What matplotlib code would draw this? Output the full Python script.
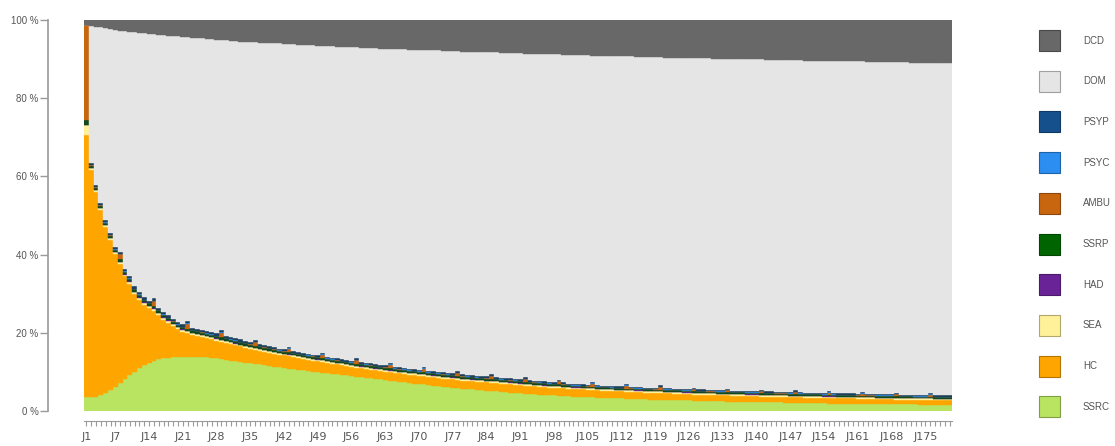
import matplotlib
matplotlib.use("Agg")
import matplotlib.pyplot as plt
import matplotlib.colors as mcolors
from matplotlib.patches import Rectangle
import numpy as np

# ---------------- data (percent of patients per day) ----------------
days = ["J%d" % i for i in range(1, 181)]
tick_days = ["J1", "J7", "J14", "J21", "J28", "J35", "J42", "J49", "J56", "J63",
             "J70", "J77", "J84", "J91", "J98", "J105", "J112", "J119", "J126",
             "J133", "J140", "J147", "J154", "J161", "J168", "J175"]
y_ticks = [0, 20, 40, 60, 80, 100]
y_labels = ["0 %", "20 %", "40 %", "60 %", "80 %", "100 %"]

ssrc = [3.6, 3.6, 3.7, 4.1, 4.7, 5.4, 6.2, 7.2, 8.2, 9.2,
        10.1, 11.0, 11.7, 12.3, 12.8, 13.2, 13.5, 13.6, 13.7, 13.8,
        13.8, 13.9, 13.9, 13.8, 13.8, 13.7, 13.6, 13.5, 13.3, 13.1,
        12.9, 12.7, 12.5, 12.4, 12.3, 12.1, 11.9, 11.7, 11.5, 11.3,
        11.2, 11.0, 10.8, 10.7, 10.5, 10.4, 10.2, 10.1, 9.9, 9.8,
        9.7, 9.5, 9.4, 9.3, 9.1, 9.0, 8.8, 8.7, 8.5, 8.4,
        8.2, 8.1, 7.9, 7.8, 7.6, 7.5, 7.3, 7.2, 7.0, 6.9,
        6.8, 6.6, 6.5, 6.4, 6.2, 6.1, 6.0, 5.9, 5.7, 5.6,
        5.5, 5.4, 5.3, 5.2, 5.1, 5.0, 4.9, 4.8, 4.7, 4.6,
        4.5, 4.4, 4.4, 4.3, 4.2, 4.1, 4.0, 4.0, 3.9, 3.8,
        3.8, 3.7, 3.6, 3.6, 3.5, 3.5, 3.4, 3.4, 3.3, 3.3,
        3.2, 3.2, 3.1, 3.1, 3.0, 3.0, 3.0, 2.9, 2.9, 2.9,
        2.8, 2.8, 2.8, 2.7, 2.7, 2.7, 2.6, 2.6, 2.6, 2.5,
        2.5, 2.5, 2.5, 2.4, 2.4, 2.4, 2.4, 2.3, 2.3, 2.3,
        2.3, 2.2, 2.2, 2.2, 2.2, 2.1, 2.1, 2.1, 2.1, 2.0,
        2.0, 2.0, 2.0, 2.0, 1.9, 1.9, 1.9, 1.9, 1.9, 1.9,
        1.8, 1.8, 1.8, 1.8, 1.8, 1.8, 1.7, 1.7, 1.7, 1.7,
        1.7, 1.7, 1.7, 1.6, 1.6, 1.6, 1.6, 1.6, 1.6, 1.6]

hc = [67.0, 58.0, 52.3, 47.3, 42.3, 38.3, 33.9, 30.4, 26.2, 23.4,
      19.9, 17.5, 15.5, 14.1, 12.9, 11.4, 9.9, 9.0, 8.0, 7.1,
      6.5, 6.0, 5.6, 5.4, 5.1, 4.9, 4.7, 4.5, 4.4, 4.3,
      4.2, 4.1, 4.0, 3.8, 3.6, 3.5, 3.5, 3.4, 3.4, 3.3,
      3.2, 3.2, 3.2, 3.1, 3.0, 2.9, 2.9, 2.8, 2.8, 2.7,
      2.6, 2.6, 2.5, 2.4, 2.4, 2.3, 2.3, 2.2, 2.3, 2.2,
      2.2, 2.1, 2.2, 2.1, 2.2, 2.1, 2.2, 2.1, 2.2, 2.1,
      2.1, 2.1, 2.1, 2.1, 2.1, 2.1, 2.1, 2.1, 2.1, 2.1,
      2.1, 2.1, 2.1, 2.1, 2.1, 2.1, 2.1, 2.1, 2.1, 2.1,
      2.1, 2.1, 2.0, 2.0, 2.0, 2.0, 2.0, 1.9, 2.0, 2.0,
      1.9, 1.9, 2.0, 1.9, 1.9, 1.9, 1.9, 1.8, 1.9, 1.8,
      1.8, 1.8, 1.8, 1.8, 1.8, 1.8, 1.7, 1.8, 1.7, 1.7,
      1.7, 1.7, 1.6, 1.7, 1.6, 1.6, 1.6, 1.6, 1.6, 1.6,
      1.6, 1.5, 1.5, 1.6, 1.5, 1.5, 1.5, 1.5, 1.5, 1.5,
      1.4, 1.5, 1.5, 1.4, 1.4, 1.5, 1.4, 1.4, 1.4, 1.4,
      1.4, 1.4, 1.4, 1.3, 1.4, 1.4, 1.3, 1.3, 1.3, 1.3,
      1.3, 1.3, 1.3, 1.3, 1.2, 1.2, 1.3, 1.3, 1.2, 1.2,
      1.2, 1.2, 1.1, 1.2, 1.2, 1.2, 1.1, 1.1, 1.1, 1.1]

sea = [2.5] + [0.5] * 29 + [0.45] * 60 + [0.4] * 90
had = [0.0] + [0.05] * 179
ssrp = [1.3] + [0.6] * 39 + [0.5] * 60 + [0.4] * 80
ambu = [24.3, 0.05, 0.05, 0.05, 0.05, 0.05, 0.05, 1.3, 0.05, 0.05,
        0.05, 0.05, 0.05, 0.05, 1.3, 0.05, 0.05, 0.05, 0.05, 0.05,
        0.05, 1.3, 0.05, 0.05, 0.05, 0.05, 0.05, 0.05, 1.2, 0.05,
        0.05, 0.05, 0.05, 0.05, 0.05, 0.9, 0.05, 0.05, 0.05, 0.05,
        0.05, 0.05, 0.9, 0.05, 0.05, 0.05, 0.05, 0.05, 0.05, 0.9,
        0.05, 0.05, 0.05, 0.05, 0.05, 0.05, 0.9, 0.05, 0.05, 0.05,
        0.05, 0.05, 0.05, 0.9, 0.05, 0.05, 0.05, 0.05, 0.05, 0.05,
        0.9, 0.05, 0.05, 0.05, 0.05, 0.05, 0.05, 0.7, 0.05, 0.05,
        0.05, 0.05, 0.05, 0.05, 0.7, 0.05, 0.05, 0.05, 0.05, 0.05,
        0.05, 0.7, 0.05, 0.05, 0.05, 0.05, 0.05, 0.05, 0.7, 0.05,
        0.05, 0.05, 0.05, 0.05, 0.05, 0.7, 0.05, 0.05, 0.05, 0.05,
        0.05, 0.05, 0.7, 0.05, 0.05, 0.05, 0.05, 0.05, 0.05, 0.7,
        0.05, 0.05, 0.05, 0.05, 0.05, 0.05, 0.5, 0.05, 0.05, 0.05,
        0.05, 0.05, 0.05, 0.5, 0.05, 0.05, 0.05, 0.05, 0.05, 0.05,
        0.5, 0.05, 0.05, 0.05, 0.05, 0.05, 0.05, 0.5, 0.05, 0.05,
        0.05, 0.05, 0.05, 0.05, 0.5, 0.05, 0.05, 0.05, 0.05, 0.05,
        0.05, 0.5, 0.05, 0.05, 0.05, 0.05, 0.05, 0.05, 0.5, 0.05,
        0.05, 0.05, 0.05, 0.05, 0.05, 0.5, 0.05, 0.05, 0.05, 0.05]
psyc = [0.0] + [0.1] * 179
psyp = [0.0] + [0.55] * 39 + [0.4] * 60 + [0.3] * 80

dcd = [1.3, 1.5, 1.7, 1.9, 2.1, 2.3, 2.5, 2.7, 2.8, 3.0,
       3.1, 3.3, 3.4, 3.5, 3.7, 3.8, 3.9, 4.0, 4.1, 4.2,
       4.3, 4.4, 4.5, 4.6, 4.7, 4.8, 4.9, 5.0, 5.1, 5.2,
       5.3, 5.4, 5.5, 5.5, 5.6, 5.7, 5.8, 5.8, 5.9, 6.0,
       6.0, 6.1, 6.2, 6.2, 6.3, 6.4, 6.4, 6.5, 6.6, 6.6,
       6.7, 6.7, 6.8, 6.9, 6.9, 7.0, 7.0, 7.1, 7.1, 7.2,
       7.2, 7.3, 7.3, 7.4, 7.4, 7.5, 7.5, 7.6, 7.6, 7.7,
       7.7, 7.8, 7.8, 7.8, 7.9, 7.9, 8.0, 8.0, 8.1, 8.1,
       8.1, 8.2, 8.2, 8.3, 8.3, 8.3, 8.4, 8.4, 8.5, 8.5,
       8.5, 8.6, 8.6, 8.6, 8.7, 8.7, 8.8, 8.8, 8.8, 8.9,
       8.9, 8.9, 9.0, 9.0, 9.0, 9.1, 9.1, 9.1, 9.2, 9.2,
       9.2, 9.3, 9.3, 9.3, 9.4, 9.4, 9.4, 9.5, 9.5, 9.5,
       9.6, 9.6, 9.6, 9.7, 9.7, 9.7, 9.7, 9.8, 9.8, 9.8,
       9.9, 9.9, 9.9, 9.9, 10.0, 10.0, 10.0, 10.1, 10.1, 10.1,
       10.1, 10.2, 10.2, 10.2, 10.2, 10.3, 10.3, 10.3, 10.3, 10.4,
       10.4, 10.4, 10.4, 10.5, 10.5, 10.5, 10.5, 10.6, 10.6, 10.6,
       10.6, 10.6, 10.7, 10.7, 10.7, 10.7, 10.8, 10.8, 10.8, 10.8,
       10.8, 10.9, 10.9, 10.9, 10.9, 10.9, 11.0, 11.0, 11.0, 11.0]

# DOM (home) is the remainder of the 100 % stacked bar
lower = [ssrc, hc, sea, had, ssrp, ambu, psyc, psyp]
dom = list(100 - np.sum(np.array(lower), axis=0) - np.array(dcd))

series = [("SSRC", ssrc, "#b8e462"), ("HC", hc, "#ffa500"),
          ("SEA", sea, "#fff09a"), ("HAD", had, "#6a2396"),
          ("SSRP", ssrp, "#0f4a1e"), ("AMBU", ambu, "#c8660f"),
          ("PSYC", psyc, "#2b8ef0"), ("PSYP", psyp, "#1d3f5e"),
          ("DOM", dom, "#e5e5e5"), ("DCD", dcd, "#686868")]
legend_colors = {"PSYP": "#16508c", "SSRP": "#006400"}

# ---------------- figure ----------------
W, H = 1115, 446
PX = 72.0 / 100.0  # points per pixel at dpi 100
fig = plt.figure(figsize=(W / 100, H / 100), dpi=100)
ax = fig.add_axes([84 / W, 35 / H, 868 / W, 391 / H])

x = np.arange(len(days))
bottom = np.zeros(len(days))
for name, vals, col in series:
    v = np.array(vals, dtype=float)
    ax.bar(x, v, bottom=bottom, width=1.0, color=col, edgecolor=col,
           linewidth=0.3, label=name)
    bottom += v

ax.set_xlim(-0.5, len(days) - 0.5)
ax.set_ylim(0, 100)

grey = "#9a9a9a"
txt = "#555555"
for s in ("top", "right"):
    ax.spines[s].set_visible(False)
ax.spines["left"].set_position(("outward", 36 * PX))
ax.spines["left"].set_color(grey)
ax.spines["left"].set_linewidth(1.2)
ax.spines["bottom"].set_position(("outward", 10 * PX))
ax.spines["bottom"].set_color(grey)
ax.spines["bottom"].set_bounds(-0.5, len(days) - 0.5)

ax.set_yticks(y_ticks)
ax.set_yticklabels(y_labels, fontsize=7, color=txt, family="Liberation Sans")
ax.tick_params(axis="y", length=8 * PX, color=grey, width=1, pad=1.5 * PX)

major_pos = [days.index(t) for t in tick_days]
ax.set_xticks(major_pos)
ax.set_xticklabels(tick_days, fontsize=8, color=txt)
ax.set_xticks(x, minor=True)
ax.tick_params(axis="x", which="both", length=4.5 * PX, color=grey, width=0.8,
               direction="out", pad=7 * PX)

# ---------------- legend ----------------
for i, (name, vals, col) in enumerate(reversed(series)):
    yc = 40.5 + 40.7 * i
    c = legend_colors.get(name, col)
    rgb = np.array(mcolors.to_rgb(c)) * 0.7
    fig.add_artist(Rectangle(((1039) / W, 1 - (yc + 10.5) / H), 21 / W, 21 / H,
                             transform=fig.transFigure, facecolor=c,
                             edgecolor=rgb, linewidth=0.8))
    fig.text(1083 / W, 1 - yc / H, name, fontsize=7, color=txt,
             va="center", ha="left", family="Liberation Sans")

fig.savefig("out.png", dpi=100)
